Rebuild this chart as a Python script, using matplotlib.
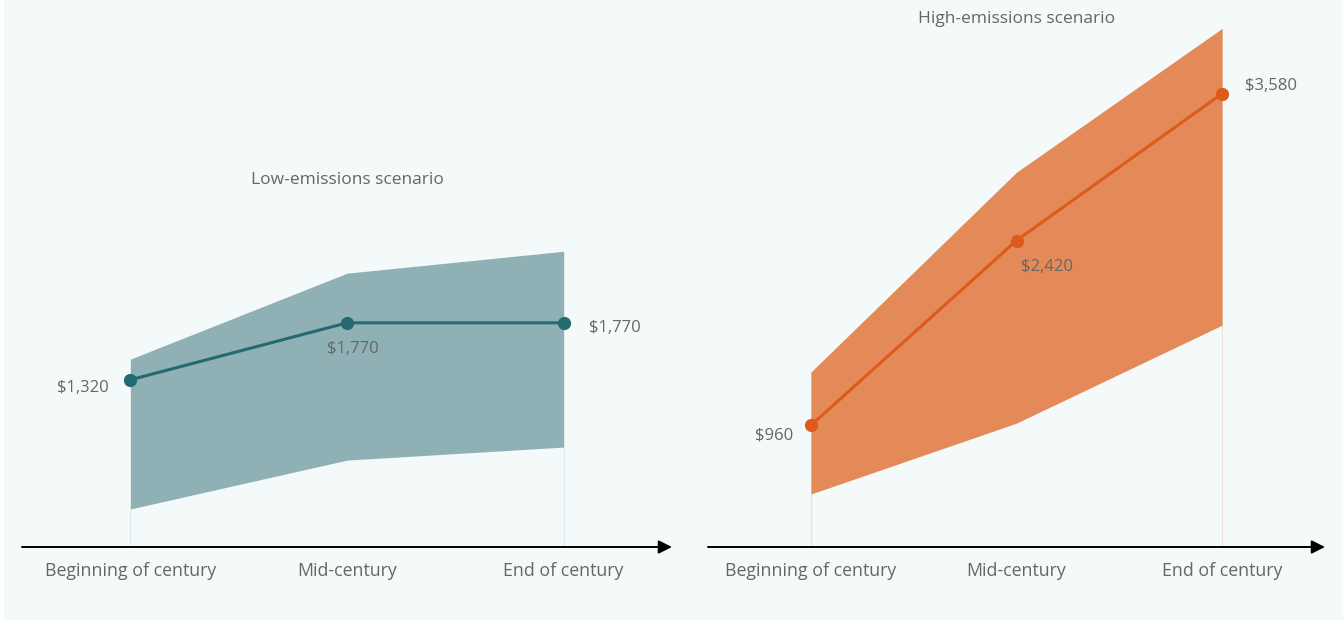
import matplotlib.pyplot as plt
from matplotlib.patches import Rectangle

plt.rcParams['font.family'] = ['Open Sans', 'DejaVu Sans']

periods = ["Beginning of century", "Mid-century", "End of century"]

low_mid = [1320, 1770, 1770]
low_lo = [300, 686, 789]
low_hi = [1483, 2162, 2335]
low_labels = ["$1,320", "$1,770", "$1,770"]

high_mid = [960, 2420, 3580]
high_lo = [418, 978, 1752]
high_hi = [1381, 2959, 4095]
high_labels = ["$960", "$2,420", "$3,580"]

BG = "#f4f9f9"
TXT = "#666666"

fig = plt.figure(figsize=(13.43, 6.2), dpi=100, facecolor="white")
fig.patches.append(Rectangle((4 / 1343, 0), 1, 1, transform=fig.transFigure,
                             facecolor=BG, edgecolor="none", zorder=-10))

W, H = 1343, 620
bottom = (H - 547) / H
height = 537 / H
ax_low = fig.add_axes([22 / W, bottom, 650 / W, height])
ax_high = fig.add_axes([708 / W, bottom, 617 / W, height])


def draw(ax, mid, lo, hi, labels, line_c, band_c, title, title_y, offsets):
    x = list(range(len(periods)))
    ax.set_facecolor("none")
    ax.set_xlim(-0.5, 2.5)
    ax.set_ylim(0, 4240)
    # faint edges of the band down to the axis
    ax.vlines([x[0], x[-1]], 0, [lo[0], lo[-1]], color=band_c, alpha=0.2,
              lw=0.8, zorder=1)
    ax.fill_between(x, lo, hi, color=band_c, lw=0, zorder=2)
    ax.plot(x, mid, color=line_c, lw=2.2, marker="o", ms=8.5, zorder=3)
    for i, (v, lab) in enumerate(zip(mid, labels)):
        dx, dy, ha = offsets[i]
        ax.annotate(lab, (i, v), xytext=(dx, dy), textcoords="offset pixels",
                    ha=ha, va="center", fontsize=12, color=TXT)
    ax.text(1, title_y, title, ha="center", va="center", fontsize=12.5, color=TXT)
    ax.set_xticks(x)
    ax.set_xticklabels(periods, fontsize=12.8, color=TXT)
    ax.tick_params(axis="x", length=0, pad=11)
    ax.set_yticks([])
    for s in ax.spines.values():
        s.set_visible(False)
    ax.annotate("", xy=(1, 0), xytext=(0, 0), xycoords="axes fraction",
                arrowprops=dict(arrowstyle="-|>", color="black", lw=1.4,
                                mutation_scale=20, shrinkA=0, shrinkB=0),
                annotation_clip=False)


draw(ax_low, low_mid, low_lo, low_hi, low_labels, "#236b70", "#8fb1b6",
     "Low-emissions scenario", 2896,
     [(-22, -8, "right"), (6, -26, "center"), (25, -5, "left")])
draw(ax_high, high_mid, high_lo, high_hi, high_labels, "#de5a1c", "#e38a58",
     "High-emissions scenario", 4166,
     [(-18, -10, "right"), (5, -26, "left"), (23, 8, "left")])

fig.savefig("out.png", dpi=100, facecolor=fig.get_facecolor())
